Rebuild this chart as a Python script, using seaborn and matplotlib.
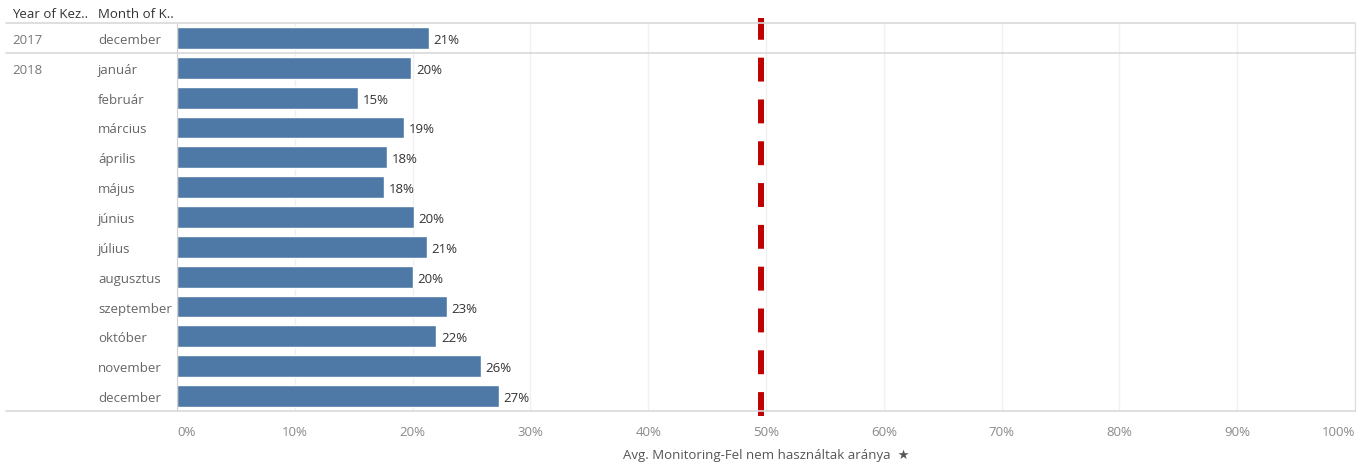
import matplotlib
matplotlib.use("Agg")
import matplotlib.pyplot as plt
import matplotlib.transforms as mtransforms
from matplotlib.lines import Line2D
import seaborn as sns
import pandas as pd

# data
years = ["2017"] + ["2018"] * 12
months = ["december", "január", "február", "március", "április", "május", "június",
          "július", "augusztus", "szeptember", "október", "november", "december"]
values = [0.214, 0.199, 0.154, 0.193, 0.178, 0.176, 0.201,
          0.212, 0.200, 0.229, 0.220, 0.258, 0.273]
target = 0.496
xticks = [0, 0.1, 0.2, 0.3, 0.4, 0.5, 0.6, 0.7, 0.8, 0.9, 1.0]
xlabel = "Avg. Monitoring-Fel nem használtak aránya"
headers = ["Year of Kez..", "Month of K.."]

df = pd.DataFrame({"year": years, "month": months, "value": values})
df["row"] = df["year"] + " " + df["month"]

sns.set_style("white")
plt.rcParams["font.family"] = ["Open Sans", "DejaVu Sans"]

W, H = 1362, 464
fig = plt.figure(figsize=(W / 100, H / 100), dpi=100)
ax = fig.add_axes([177 / W, 52 / H, (1355 - 177) / W, (412 - 24) / H])

sns.barplot(data=df, y="row", x="value", orient="h", color="#4e79a7",
            saturation=1, width=0.73, ax=ax)
ax.set_ylim(len(df) - 0.5, -0.5)
ax.set_xlim(0, 1.0)

# grid
ax.set_xticks(xticks)
ax.xaxis.grid(True, color="#f0f0f0", linewidth=1)
ax.set_axisbelow(True)
ax.set_xticklabels([f"{t:.0%}" for t in xticks], color="#8a8a8a", fontsize=9.5)
ax.tick_params(axis="x", length=0, pad=10)
tl = ax.get_xticklabels()
tl[0].set_ha("left")
tl[-1].set_ha("right")
ax.set_yticks([])
ax.set_ylabel("")
ax.set_xlabel(xlabel + "  \u2605", color="#555555", fontsize=9.5, labelpad=7)

for side in ["top", "bottom"]:
    ax.spines[side].set_visible(False)
ax.spines["left"].set_color("#d0d0d0")
ax.spines["right"].set_color("#dcdcdc")

# value labels
for i, v in enumerate(df["value"]):
    ax.text(v + 0.004, i + 0.05, f"{v:.0%}", va="center", ha="left",
            color="#333333", fontsize=9.5)

# reference line
ax.axvline(target, ymin=-0.013, ymax=1.013, color="#c00000", linewidth=4.3,
           dashes=(4, 3), clip_on=False, zorder=5)

# row headers / separators
tr = mtransforms.blended_transform_factory(fig.transFigure, ax.transData)
for yb in [-0.5, 0.5, len(df) - 0.5]:
    fig.add_artist(Line2D([6 / W, 1355 / W], [yb, yb], transform=tr,
                          color="#d9d9d9", linewidth=1.2))
prev = None
for i, (y, m) in enumerate(zip(df["year"], df["month"])):
    if y != prev:
        fig.text(12 / W, i + 0.05, y, transform=tr, va="center", ha="left",
                 color="#777777", fontsize=9.5)
        prev = y
    fig.text(98 / W, i + 0.05, m, transform=tr, va="center", ha="left",
             color="#666666", fontsize=9.5)

fig.text(12 / W, 1 - 14 / H, headers[0], va="center", ha="left",
         color="#333333", fontsize=9.5)
fig.text(98 / W, 1 - 14 / H, headers[1], va="center", ha="left",
         color="#333333", fontsize=9.5)

fig.savefig("out.png", dpi=100)
